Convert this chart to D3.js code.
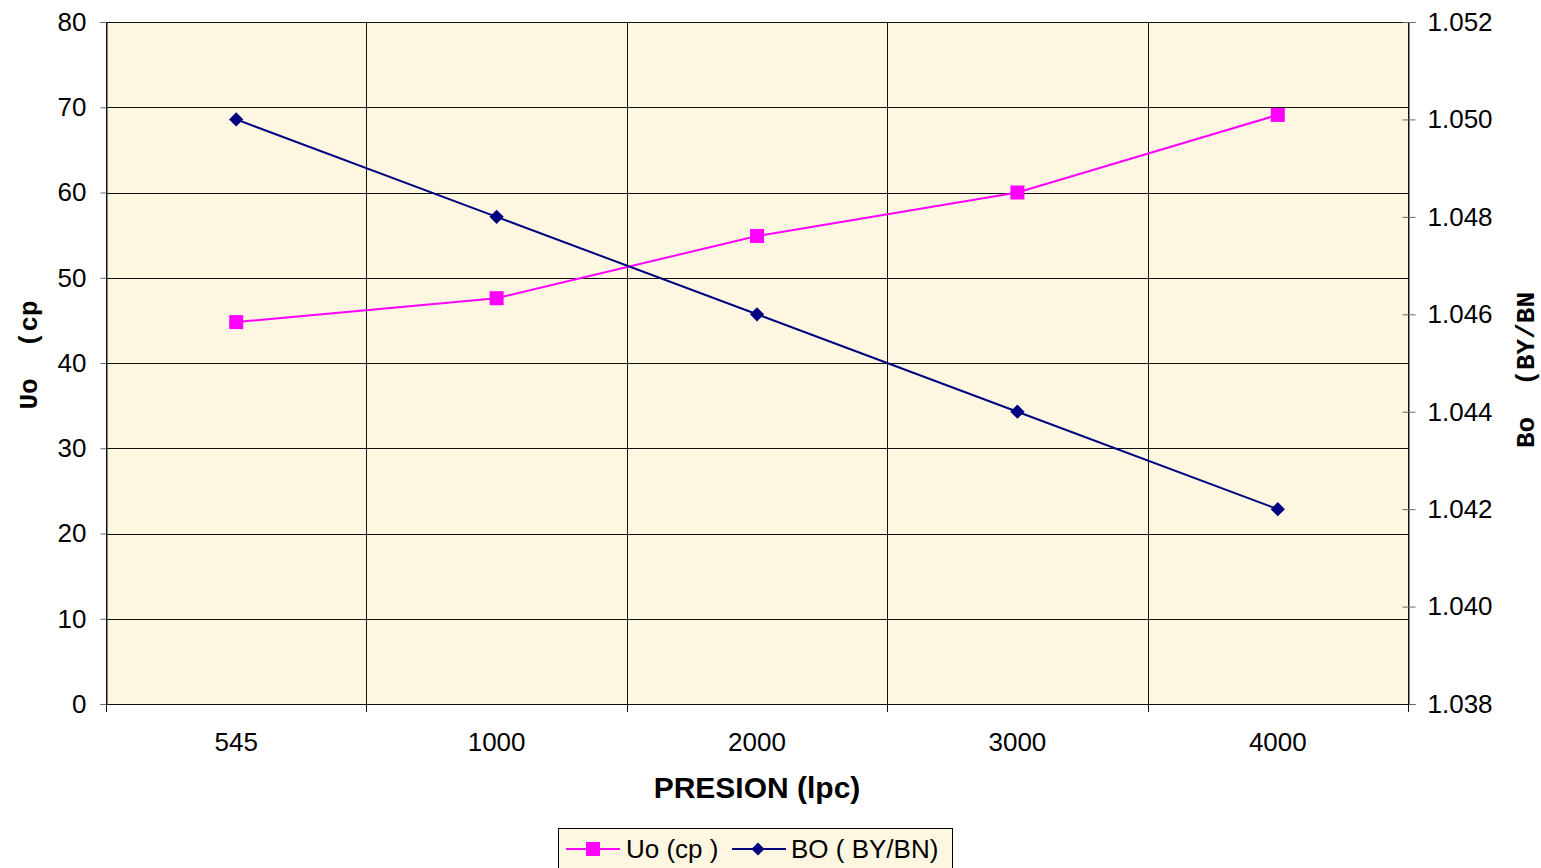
<!DOCTYPE html>
<html><head><meta charset="utf-8">
<script src="https://cdn.jsdelivr.net/npm/d3@7"></script>
<style>body{margin:0;background:#fff;}svg{display:block;}</style>
</head><body>
<svg id="c" width="1541" height="868"></svg>
<script>
const categories = ["545","1000","2000","3000","4000"];
const uoValues = [44.8, 47.6, 54.9, 60.0, 69.1];
const boValues = [1.050, 1.048, 1.046, 1.044, 1.042];
const leftTicks = [0,10,20,30,40,50,60,70,80];
const rightTicks = [1.038,1.040,1.042,1.044,1.046,1.048,1.050,1.052];

const svg = d3.select("#c");
const L=106, R=1408, T=22, B=704;
const x = d3.scaleBand().domain(categories).range([L,R]);
const yL = d3.scaleLinear().domain([0,80]).range([B,T]);
const yR = d3.scaleLinear().domain([1.038,1.052]).range([B,T]);

svg.append("rect").attr("x",L).attr("y",T).attr("width",R-L).attr("height",B-T).attr("fill","#FDF6E0");

// horizontal grid
svg.append("g").selectAll("line").data(leftTicks).join("line")
  .attr("x1",L).attr("x2",R).attr("y1",d=>Math.round(yL(d))+0.5).attr("y2",d=>Math.round(yL(d))+0.5)
  .attr("stroke","#111").attr("stroke-width",1);
// vertical grid at band boundaries
const bounds = categories.map(c=>x(c)).concat([R]);
svg.append("g").selectAll("line").data(bounds).join("line")
  .attr("x1",d=>Math.round(d)+0.5).attr("x2",d=>Math.round(d)+0.5).attr("y1",T).attr("y2",B)
  .attr("stroke","#111").attr("stroke-width",1);

// Left axis
const gL = svg.append("g").attr("transform",`translate(${L+0.5},0)`)
  .call(d3.axisLeft(yL).tickValues(leftTicks).tickSize(6).tickPadding(14));
// Right axis
const gR = svg.append("g").attr("transform",`translate(${R+0.5},0)`)
  .call(d3.axisRight(yR).tickValues(rightTicks).tickFormat(d3.format(".3f")).tickSize(7).tickPadding(12));
gR.selectAll(".tick line").attr("x1",-6);
// Bottom axis
const gB = svg.append("g").attr("transform",`translate(0,${B+0.5})`)
  .call(d3.axisBottom(x).tickSize(0).tickPadding(28));
svg.append("g").selectAll("line").data(bounds).join("line")
  .attr("x1",d=>Math.round(d)+0.5).attr("x2",d=>Math.round(d)+0.5).attr("y1",B).attr("y2",B+8)
  .attr("stroke","#111");
[gL,gR,gB].forEach(g=>{
  g.selectAll("text").attr("font-family","Liberation Sans, Arial, sans-serif").attr("font-size",26).attr("fill","#000");
  g.selectAll("path.domain").attr("stroke","#111");
  g.selectAll(".tick line").attr("stroke","#111");
});
gL.selectAll(".tick line").attr("stroke","#666");
gR.selectAll(".tick line").attr("stroke","#666");
gB.select("path.domain").attr("d",`M${L},0H${R}`);

// Lines
const lineUo = d3.line().x((d,i)=>x(categories[i])+x.bandwidth()/2).y(d=>yL(d));
const lineBo = d3.line().x((d,i)=>x(categories[i])+x.bandwidth()/2).y(d=>yR(d));
svg.append("path").attr("d",lineUo(uoValues)).attr("fill","none").attr("stroke","#FF00FF").attr("stroke-width",2);
svg.append("path").attr("d",lineBo(boValues)).attr("fill","none").attr("stroke","#000080").attr("stroke-width",2);
svg.append("g").selectAll("rect").data(uoValues).join("rect")
  .attr("x",(d,i)=>x(categories[i])+x.bandwidth()/2-7).attr("y",d=>yL(d)-7)
  .attr("width",14).attr("height",14).attr("fill","#FF00FF");
svg.append("g").selectAll("path").data(boValues).join("path")
  .attr("d",d3.symbol().type(d3.symbolDiamond2).size(130))
  .attr("transform",(d,i)=>`translate(${x(categories[i])+x.bandwidth()/2},${yR(d)})`)
  .attr("fill","#000080");

// Axis titles
svg.append("text").attr("x",(L+R)/2).attr("y",798).attr("text-anchor","middle")
  .attr("font-family","Liberation Sans, Arial, sans-serif").attr("font-weight","bold").attr("font-size",30)
  .text("PRESION (lpc)");
svg.append("text").attr("transform","translate(37,355) rotate(-90)").attr("text-anchor","middle")
  .attr("font-family","Liberation Mono, Courier New, monospace").attr("font-weight","bold").attr("font-size",26)
  .attr("xml:space","preserve").text("Uo  (cp");
svg.append("text").attr("transform","translate(1534,370) rotate(-90)").attr("text-anchor","middle")
  .attr("font-family","Liberation Mono, Courier New, monospace").attr("font-weight","bold").attr("font-size",26)
  .attr("xml:space","preserve").text("Bo  (BY/BN");

// Legend
const lg = svg.append("g");
lg.append("rect").attr("x",558.5).attr("y",828.5).attr("width",394).attr("height",44)
  .attr("fill","#FDF6E0").attr("stroke","#000");
lg.append("line").attr("x1",566).attr("x2",620).attr("y1",849).attr("y2",849).attr("stroke","#FF00FF").attr("stroke-width",2);
lg.append("rect").attr("x",586).attr("y",842).attr("width",14).attr("height",14).attr("fill","#FF00FF");
lg.append("text").attr("x",626).attr("y",858).attr("font-family","Liberation Sans, Arial, sans-serif").attr("font-size",26)
  .attr("xml:space","preserve").text("Uo (cp )");
lg.append("line").attr("x1",732).attr("x2",786).attr("y1",849).attr("y2",849).attr("stroke","#000080").attr("stroke-width",2);
lg.append("path").attr("d",d3.symbol().type(d3.symbolDiamond2).size(110)).attr("transform","translate(758,849)").attr("fill","#000080");
lg.append("text").attr("x",791).attr("y",858).attr("font-family","Liberation Sans, Arial, sans-serif").attr("font-size",26)
  .attr("xml:space","preserve").text("BO ( BY/BN)");
</script>
</body></html>
